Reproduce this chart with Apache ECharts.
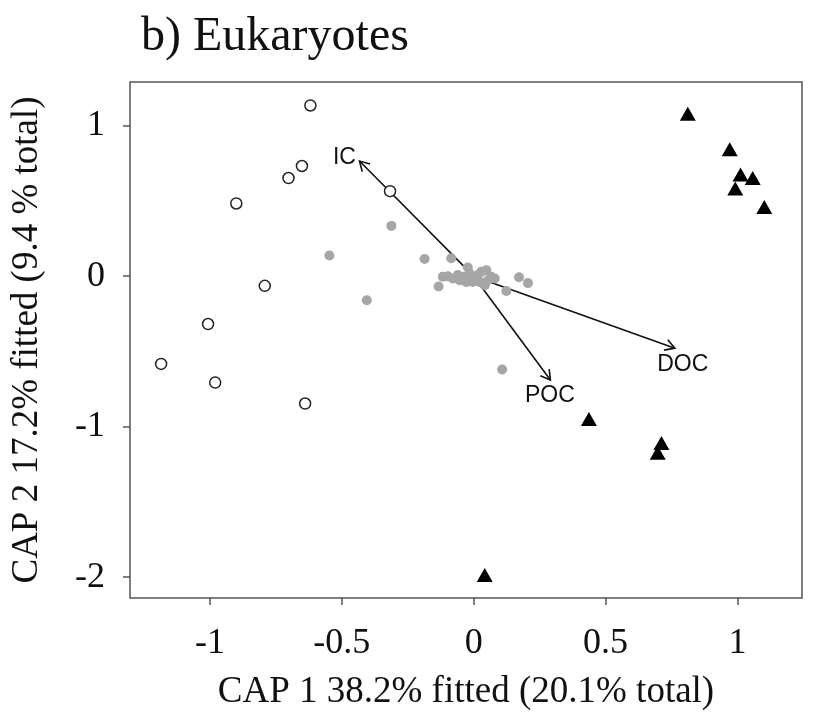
<!DOCTYPE html>
<html>
<head>
<meta charset="utf-8">
<script src="https://cdn.jsdelivr.net/npm/echarts@6/dist/echarts.min.js"></script>
<style>
  html, body { margin: 0; padding: 0; background: #fff; }
  #main { width: 832px; height: 713px; }
</style>
</head>
<body>
<div id="main"></div>
<script>
// sites, group 1 (open circles)
var openX = [-0.619, -0.651, -0.702, -0.900, -0.317, -0.792, -1.007, -1.185, -0.980, -0.639];
var openY = [1.134, 0.732, 0.652, 0.483, 0.565, -0.064, -0.318, -0.583, -0.707, -0.846];

// sites, group 2 (filled triangles)
var triX = [0.812, 0.971, 1.012, 1.058, 0.992, 1.102, 0.437, 0.712, 0.698, 0.042];
var triY = [1.079, 0.844, 0.675, 0.652, 0.583, 0.460, -0.949, -1.109, -1.173, -1.985];

// sites, group 3 (grey dots)
var greyX = [1.271, -0.312, -0.547, -0.186, -0.085, -0.405, -0.133, 0.124, 0.108, 0.172, 0.206,
  -0.117, -0.098, -0.079, -0.060, -0.041, -0.022, -0.015, -0.003, 0.016, 0.029, 0.048, 0.054,
  0.067, 0.080, 0.042, -0.053, -0.028, 0.023, -0.003];
var greyY = [0.704, 0.334, 0.137, 0.114, 0.119, -0.160, -0.069, -0.098, -0.620, -0.007, -0.046,
  -0.004, 0.000, -0.015, 0.007, -0.004, 0.058, 0.018, -0.015, 0.007, 0.029, 0.040, -0.027,
  -0.004, -0.015, -0.060, -0.027, -0.038, -0.038, -0.038];

// environmental vectors
var vecNames = ["IC", "POC", "DOC"];
var vecX = [-0.433, 0.291, 0.763];
var vecY = [0.765, -0.690, -0.478];
var vecLabelX = [-0.49, 0.289, 0.793];
var vecLabelY = [0.79, -0.796, -0.591];

// axis ticks
var xTicks = [-1, -0.5, 0, 0.5, 1];
var yTicks = [-2, -1, 0, 1];

function pairs(xs, ys) {
  return xs.map(function (x, i) { return [x, ys[i]]; });
}

var serif = "Liberation Serif";
var chart = echarts.init(document.getElementById("main"));

var option = {
  animation: false,
  title: {
    text: "b) Eukaryotes",
    left: 136,
    top: 8,
    textStyle: { fontFamily: serif, fontSize: 48, fontWeight: "normal", color: "#111" }
  },
  grid: {
    left: 130, right: 30, top: 82, bottom: 115,
    outerBoundsMode: "none",
    containLabel: false,
    show: true, borderColor: "#555", borderWidth: 1.5, backgroundColor: "#fff"
  },
  xAxis: {
    type: "value",
    min: -1.303, max: 1.245,
    name: "CAP 1 38.2% fitted (20.1% total)",
    nameLocation: "middle",
    nameGap: 76,
    nameTextStyle: { fontFamily: serif, fontSize: 37, color: "#111" },
    splitLine: { show: false },
    axisLine: { show: false, onZero: false },
    axisTick: { show: true, length: 7, customValues: xTicks, lineStyle: { color: "#555", width: 1.5 } },
    axisLabel: {
      customValues: xTicks, margin: 28,
      fontFamily: serif, fontSize: 36, color: "#111",
      formatter: function (v) { return String(v); }
    }
  },
  yAxis: {
    type: "value",
    min: -2.138, max: 1.29,
    name: "CAP 2 17.2% fitted (9.4 % total)",
    nameLocation: "middle",
    nameGap: 84,
    nameTextStyle: { fontFamily: serif, fontSize: 37, color: "#111" },
    splitLine: { show: false },
    axisLine: { show: false, onZero: false },
    axisTick: { show: true, length: 7, customValues: yTicks, lineStyle: { color: "#555", width: 1.5 } },
    axisLabel: {
      customValues: yTicks, margin: 25,
      fontFamily: serif, fontSize: 36, color: "#111",
      formatter: function (v) { return String(v); }
    }
  },
  series: [
    {
      type: "custom",
      z: 3,
      data: vecNames.map(function (n, i) { return [vecX[i], vecY[i], vecLabelX[i], vecLabelY[i], n]; }),
      renderItem: function (params, api) {
        var o = api.coord([0, 0]);
        var t = api.coord([api.value(0), api.value(1)]);
        var lp = api.coord([api.value(2), api.value(3)]);
        var ang = Math.atan2(t[1] - o[1], t[0] - o[0]);
        var len = 11, spread = Math.PI / 6;
        var a1 = [t[0] - len * Math.cos(ang - spread), t[1] - len * Math.sin(ang - spread)];
        var a2 = [t[0] - len * Math.cos(ang + spread), t[1] - len * Math.sin(ang + spread)];
        var style = { stroke: "#111", lineWidth: 1.6, fill: null };
        return {
          type: "group",
          children: [
            { type: "line", shape: { x1: o[0], y1: o[1], x2: t[0], y2: t[1] }, style: style },
            { type: "polyline", shape: { points: [a1, t, a2] }, style: style },
            {
              type: "text",
              x: lp[0], y: lp[1],
              style: {
                text: api.value(4), fill: "#111",
                font: "23px 'Liberation Sans'",
                align: "center", verticalAlign: "middle"
              }
            }
          ]
        };
      }
    },
    {
      type: "scatter",
      z: 4,
      symbol: "circle",
      symbolSize: 10,
      itemStyle: { color: "#a6a6a6", opacity: 1 },
      data: pairs(greyX, greyY)
    },
    {
      type: "scatter",
      z: 5,
      symbol: "circle",
      symbolSize: 11,
      itemStyle: { color: "#fff", borderColor: "#222", borderWidth: 1.5, opacity: 1 },
      data: pairs(openX, openY)
    },
    {
      type: "scatter",
      z: 5,
      symbol: "triangle",
      symbolSize: [16, 14],
      itemStyle: { color: "#000", opacity: 1 },
      data: pairs(triX, triY)
    }
  ]
};

chart.setOption(option);
</script>
</body>
</html>
